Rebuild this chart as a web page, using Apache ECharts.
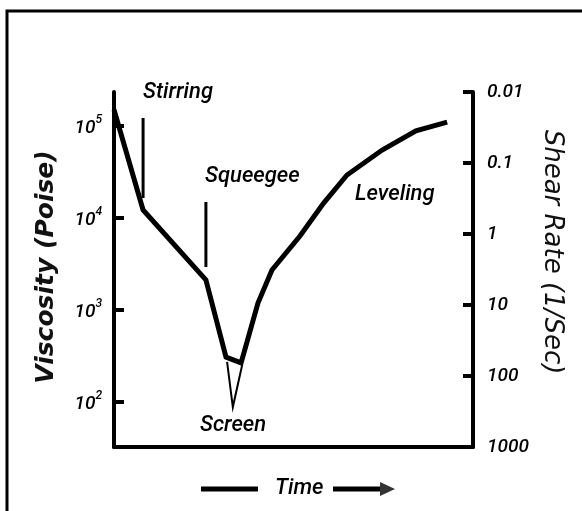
<!DOCTYPE html>
<html>
<head>
<meta charset="utf-8">
<script src="https://cdn.jsdelivr.net/npm/echarts@6/dist/echarts.min.js"></script>
<style>
html,body{margin:0;padding:0;background:#fff;}
#chart{width:582px;height:511px;}
</style>
</head>
<body>
<div id="chart"></div>
<script>
// Relative time (0..100 across the plot) and viscosity (Poise)
var time = [0, 8.1, 25.6, 31.2, 35.4, 40.1, 44.0, 51.8, 58.4, 64.9, 74.7, 84.1, 92.8];
var viscosity = [150000, 12200, 2120, 308, 266, 1190, 2720, 6370, 14500, 29300, 54800, 88300, 110000];
// "Screen" marker (small V below the minimum)
var screenTime = [31.5, 33.1, 35.7];
var screenVisc = [272, 88, 252];
// Vertical event markers
var stirringTime = [8.1, 8.1];
var stirringVisc = [122000, 16500];
var squeegeeTime = [25.6, 25.6];
var squeegeeVisc = [14900, 2930];
// Tick labels
var viscTicks = [100, 1000, 10000, 100000];
var shearTicks = [0.01, 0.1, 1, 10, 100, 1000];
var shearLabels = ['0.01', '0.1', '1', '10', '100', '1000'];

function pairs(xs, ys) { return xs.map(function (x, i) { return [x, ys[i]]; }); }

var chart = echarts.init(document.getElementById('chart'));
var txtFont = 'Roboto';
var lineSeries = function (data, width) {
  return {
    type: 'line', data: data, yAxisIndex: 0, symbol: 'none', silent: true,
    lineStyle: { color: '#000', width: width, cap: 'butt', join: 'miter' },
    animation: false
  };
};
var annFont = 'italic 500 22px Roboto';
chart.setOption({
  backgroundColor: '#fff',
  animation: false,
  grid: { left: 114, right: 109, top: 92, bottom: 64, containLabel: false },
  xAxis: {
    type: 'value', min: 0, max: 100,
    axisLine: { lineStyle: { color: '#000', width: 4 } },
    axisTick: { show: false }, axisLabel: { show: false }, splitLine: { show: false }
  },
  yAxis: [{
    type: 'log', min: 32.4, max: 234000, position: 'left',
    axisLine: { show: true, onZero: false, lineStyle: { color: '#000', width: 4 } },
    axisTick: { show: true, inside: true, length: 10, customValues: viscTicks, lineStyle: { color: '#000', width: 4 } },
    axisLabel: {
      show: true, margin: 12, customValues: viscTicks,
      formatter: function (v) { return '{b|10}{s|' + Math.round(Math.log10(v)) + '}'; },
      rich: {
        b: { fontFamily: txtFont, fontStyle: 'italic', fontWeight: 500, fontSize: 19, color: '#000', lineHeight: 24, verticalAlign: 'bottom' },
        s: { fontFamily: txtFont, fontStyle: 'italic', fontWeight: 500, fontSize: 12, color: '#000', lineHeight: 24, verticalAlign: 'top' }
      }
    },
    splitLine: { show: false }
  }, {
    type: 'log', min: 0.01, max: 1000, inverse: true, position: 'right',
    axisLine: { show: true, onZero: false, lineStyle: { color: '#000', width: 4 } },
    axisTick: { show: true, inside: true, length: 10, customValues: shearTicks, lineStyle: { color: '#000', width: 4 } },
    axisLabel: {
      show: true, margin: 14, customValues: shearTicks,
      fontFamily: txtFont, fontStyle: 'italic', fontWeight: 500, fontSize: 19, color: '#000',
      formatter: function (v) {
        var i = Math.round(Math.log10(v)) + 2;
        return shearLabels[i];
      }
    },
    splitLine: { show: false }
  }],
  series: [
    lineSeries(pairs(time, viscosity), 5),
    lineSeries(pairs(screenTime, screenVisc), 2),
    lineSeries(pairs(stirringTime, stirringVisc), 3),
    lineSeries(pairs(squeegeeTime, squeegeeVisc), 3)
  ],
  graphic: [
    { type: 'polyline', shape: { points: [[7, 511], [7, 11], [582, 11]] }, style: { stroke: '#000', lineWidth: 3, fill: null } },
    { type: 'text', x: 46, y: 267, rotation: Math.PI / 2, style: { text: 'Viscosity (Poise)', font: 'italic bold 25px "DejaVu Sans"', fill: '#111', align: 'center', verticalAlign: 'middle' } },
    { type: 'text', x: 552, y: 252, rotation: -Math.PI / 2, style: { text: 'Shear Rate (1/Sec)', font: 'italic 26px "DejaVu Sans"', fill: '#111', align: 'center', verticalAlign: 'middle' } },
    { type: 'text', left: 143, top: 81, style: { text: 'Stirring', font: annFont, fill: '#000' } },
    { type: 'text', left: 205, top: 165, style: { text: 'Squeegee', font: annFont, fill: '#000' } },
    { type: 'text', left: 355, top: 183, style: { text: 'Leveling', font: annFont, fill: '#000' } },
    { type: 'text', left: 200, top: 414, style: { text: 'Screen', font: annFont, fill: '#000' } },
    { type: 'text', left: 275, top: 477, style: { text: 'Time', font: annFont, fill: '#000' } },
    { type: 'line', shape: { x1: 201, y1: 489, x2: 258, y2: 489 }, style: { stroke: '#000', lineWidth: 5 } },
    { type: 'line', shape: { x1: 333, y1: 489, x2: 383, y2: 489 }, style: { stroke: '#000', lineWidth: 5 } },
    { type: 'polygon', shape: { points: [[380, 482], [395, 489], [380, 496]] }, style: { fill: '#333' } }
  ]
});
</script>
</body>
</html>
